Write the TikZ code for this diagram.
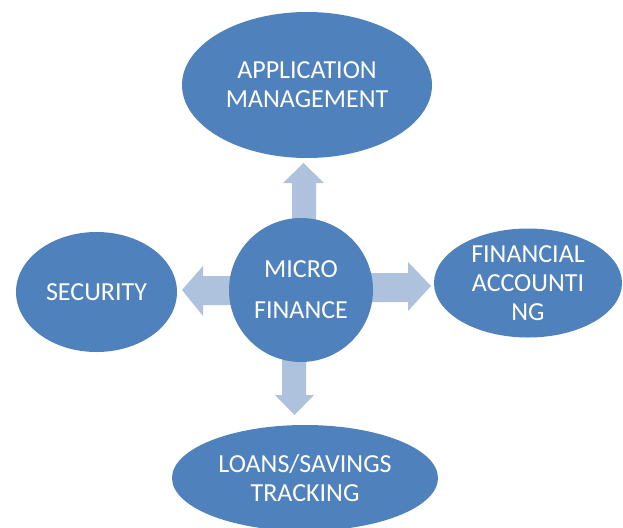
\documentclass[tikz,border=0pt]{standalone}
\usepackage{fontspec}
\setmainfont{Carlito}
\usetikzlibrary{shapes.geometric}
\definecolor{bubblue}{HTML}{4F81BD}
\definecolor{arrowblue}{HTML}{AFC2DD}
\tikzset{
  bub/.style={ellipse, fill=bubblue, inner sep=0pt, align=center,
    text=white, font=\fontsize{26}{29}\selectfont},
  blockarrow/.style={fill=arrowblue, draw=none}
}
\begin{document}
\begin{tikzpicture}[x=1pt, y=-1pt]
  \useasboundingbox (0,0) rectangle (623,527);
  \clip (0,0) rectangle (623,527);

  % block arrows (drawn first, so they sit behind the bubbles)
  % up
  \draw[blockarrow] (292,222) -- (292,183) -- (283,183) -- (303.5,163)
    -- (324,183) -- (316,183) -- (316,222) -- cycle;
  % left
  \draw[blockarrow] (240,276) -- (203,276) -- (203,266) -- (182,290)
    -- (203,316) -- (203,305) -- (240,305) -- cycle;
  % right
  \draw[blockarrow] (360,273) -- (408,273) -- (408,262) -- (431,286)
    -- (408,311) -- (408,302) -- (360,302) -- cycle;
  % down
  \draw[blockarrow] (282,360) -- (282,395) -- (275,395) -- (294.5,415)
    -- (314,395) -- (306,395) -- (306,360) -- cycle;

  % bubbles
  \node[bub, minimum width=250pt, minimum height=146pt] (app) at (307,85)
    {APPLICATION\\MANAGEMENT};
  \node[bub, circle, minimum size=144pt] (micro) at (301,290)
    {MICRO\\[12pt]FINANCE};
  \node[bub, minimum width=161pt, minimum height=120pt] (sec) at (96.5,292)
    {SECURITY};
  \node[bub, minimum width=188pt, minimum height=109pt] (fin) at (528,283)
    {FINANCIAL\\ACCOUNTI\\NG};
  \node[bub, minimum width=266pt, minimum height=106pt] (loans) at (305,478)
    {LOANS/SAVINGS\\TRACKING};
\end{tikzpicture}
\end{document}
